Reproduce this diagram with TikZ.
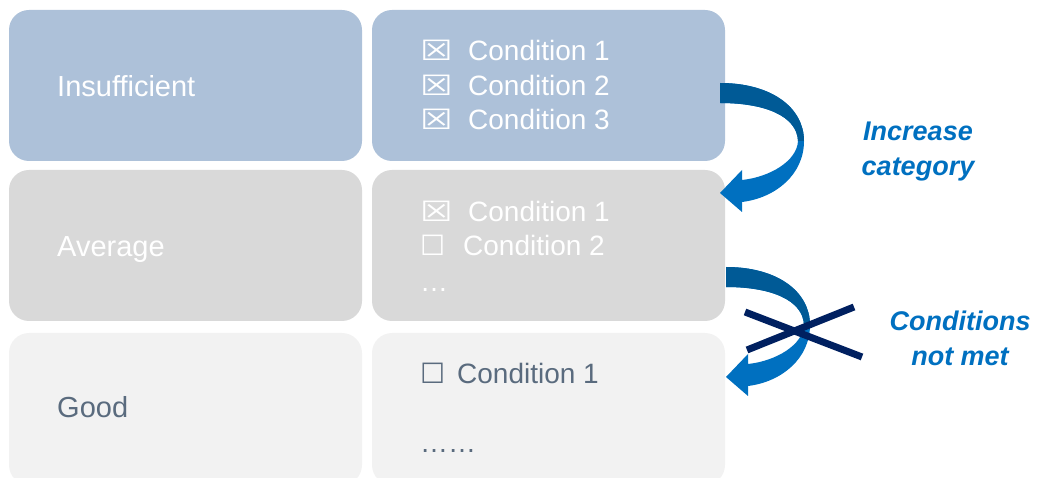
\documentclass[tikz,border=0pt]{standalone}
\usepackage{graphicx}
\usepackage{fontspec}
\setmainfont{Liberation Sans}
\newfontfamily\boxfont{DejaVu Sans}
\usetikzlibrary{calc}

\definecolor{rowA}{HTML}{ADC1D9}
\definecolor{rowB}{HTML}{D9D9D9}
\definecolor{rowC}{HTML}{F2F2F2}
\definecolor{slate}{HTML}{5A6B7E}
\definecolor{accent}{HTML}{0070C0}
\definecolor{accentdark}{HTML}{005A96}
\definecolor{navy}{HTML}{002060}

\newcommand{\crossbox}{\scalebox{1.3}[1]{☒}}

\tikzset{
  tile/.style={rectangle, rounded corners=20pt, inner sep=0pt, draw=none,
    minimum width=353pt, minimum height=151pt},
  txt/.style={anchor=base west, inner sep=0pt, font=\fontsize{28}{34}\selectfont},
  catname/.style={anchor=base west, inner sep=0pt, font=\fontsize{29}{34}\selectfont},
  tick/.style={anchor=base west, inner sep=0pt, font=\boxfont\fontsize{28}{30}\selectfont},
  note/.style={align=center, inner sep=0pt, text=accent,
    font=\bfseries\itshape\fontsize{27}{35}\selectfont},
  strike/.style={draw=navy, line width=7pt},
  % curled arrow from one tile down to the next
  pics/curl/.style={code={
    \fill[accent] (0,0) .. controls (52,0) and (84,25) .. (84,58)
      .. controls (84,92) and (55,115) .. (22,119)
      -- (22,129) -- (0,110) -- (22,87) -- (22,97)
      .. controls (50,94) and (77,78) .. (78,58)
      .. controls (77,33) and (45,20) .. (0,20) -- cycle;
    \fill[accentdark] (0,0) .. controls (52,0) and (84,25) .. (84,58)
      -- (78,58) .. controls (77,33) and (45,20) .. (0,20) -- cycle;
  }}
}

\begin{document}
\begin{tikzpicture}[x=1pt,y=-1pt]
\useasboundingbox (0,0) rectangle (1037,478);
\clip (0,0) rectangle (1037,478);

% category tiles
\node[tile, fill=rowA] (l1) at (185.5,85.5) {};
\node[tile, fill=rowB] (l2) at (185.5,245.5) {};
\node[tile, fill=rowC, minimum height=152pt] (l3) at (185.5,409) {};
\node[tile, fill=rowA] (r1) at (548.5,85.5) {};
\node[tile, fill=rowB] (r2) at (548.5,245.5) {};
\node[tile, fill=rowC, minimum height=152pt] (r3) at (548.5,409) {};

% category names
\node[catname, text=white] (n1) at (57,97) {Insufficient};
\node[catname, text=white] (n2) at (57,257) {Average};
\node[catname, text=slate] (n3) at (57,418) {Good};

% conditions
\node[tick, text=white] (b11) at (420,61) {\crossbox};
\node[txt, text=white] (c11) at (468,61) {Condition 1};
\node[tick, text=white] (b12) at (420,96) {\crossbox};
\node[txt, text=white] (c12) at (468,96) {Condition 2};
\node[tick, text=white] (b13) at (420,130) {\crossbox};
\node[txt, text=white] (c13) at (468,130) {Condition 3};

\node[tick, text=white] (b21) at (420,222) {\crossbox};
\node[txt, text=white] (c21) at (468,222) {Condition 1};
\node[tick, text=white] (b22) at (420,256) {☐};
\node[txt, text=white] (c22) at (463,256) {Condition 2};
\node[txt, text=white] (c23) at (420,292) {…};

\node[tick, text=slate] (b31) at (420,384) {☐};
\node[txt, text=slate] (c31) at (457,384) {Condition 1};
\node[txt, text=slate] (c32) at (420,453) {……};

% transitions between categories
\pic (up) at (720,83) {curl};
\pic (down) at (726,267) {curl};
\coordinate (xa) at (745,312);
\coordinate (xb) at (862,357);
\coordinate (xc) at (747,350);
\coordinate (xd) at (854,307);
\draw[strike] (xa) -- (xb);
\draw[strike] (xc) -- (xd);

\node[note] (t1) at (918,152) {Increase\\category};
\node[note] (t2) at (960,338) {Conditions\\not met};
\end{tikzpicture}
\end{document}
